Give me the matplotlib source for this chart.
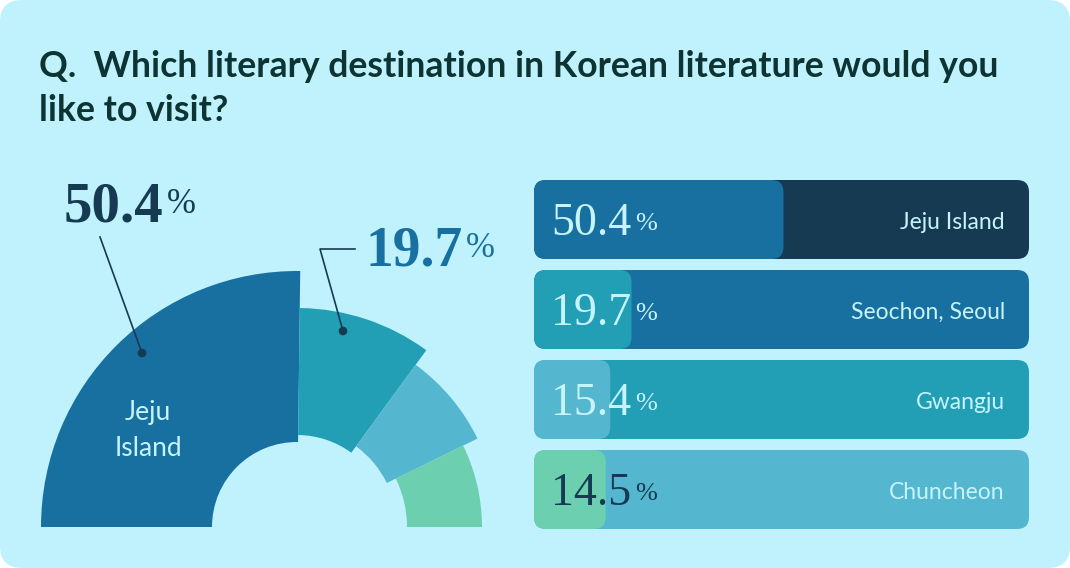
import matplotlib
matplotlib.use("Agg")
import matplotlib.pyplot as plt
from matplotlib.patches import Wedge, FancyBboxPatch, Circle

# ---------------- data ----------------
title_lines = ["Q.  Which literary destination in Korean literature would you",
               "like to visit?"]
places = ["Jeju Island", "Seochon, Seoul", "Gwangju", "Chuncheon"]
shares = [50.4, 19.7, 15.4, 14.5]

# ---------------- style ----------------
W, H = 1070, 568
BG = "#bff2fd"
NAVY = "#163a52"
LIGHT = "#c6f4fc"
slice_colors = ["#1870a0", "#229eb5", "#55b7cf", "#6bcfb0"]
track_colors = ["#163a52", "#1870a0", "#229eb5", "#55b7cf"]
value_colors = [LIGHT, LIGHT, LIGHT, NAVY]
outer_r = [256, 219, 201, 185]
inner_r = [85, 92, 100, 110]
SANS = "Lato"
SERIF = "Liberation Serif"

fig = plt.figure(figsize=(W / 100, H / 100), dpi=100)
fig.patch.set_facecolor("white")

# main pixel-space axes (y measured upward)
ax = fig.add_axes([0, 0, 1, 1])
ax.set_xlim(0, W)
ax.set_ylim(0, H)
ax.axis("off")

def Y(py):
    return H - py

card = FancyBboxPatch((0, 0), W, H, boxstyle="round,pad=0,rounding_size=22",
                      facecolor=BG, edgecolor="none")
ax.add_patch(card)

# title
for line, by in zip(title_lines, [77, 121]):
    ax.text(39, Y(by), line, fontsize=25.7, fontweight="bold",
            family=SANS, color="#0d3333", va="baseline", ha="left")

# ---------------- half donut ----------------
cx, cy = 297, Y(527)
total = sum(shares)
ang = 180.0
for v, c, ro, ri in zip(shares, slice_colors, outer_r, inner_r):
    span = v / total * 180.0
    w = Wedge((cx, cy), ro, ang - span, ang, width=ro - ri, facecolor=c,
              edgecolor="none")
    ax.add_patch(w)
    ang -= span

# label inside Jeju slice
ax.text(148, Y(420), "Jeju", fontsize=19, family=SANS, color=LIGHT,
        ha="center", va="baseline")
ax.text(148, Y(456), "Island", fontsize=19, family=SANS, color=LIGHT,
        ha="center", va="baseline")

# leader lines + dots
ax.plot([100, 142], [Y(237), Y(353)], color=NAVY, lw=1.2)
ax.add_patch(Circle((142, Y(353)), 3.6, color=NAVY))
ax.plot([355, 320, 343], [Y(249), Y(249), Y(331)], color=NAVY, lw=1.2)
ax.add_patch(Circle((343, Y(331)), 3.6, color=NAVY))

# big callouts
t1 = ax.text(64, Y(222), f"{shares[0]}", fontsize=41, fontweight="bold",
             family=SERIF, color=NAVY, ha="left", va="baseline")
ax.annotate("%", xy=(1, 0), xycoords=t1, xytext=(2.5, 9.5), textcoords="offset points",
            fontsize=25, family=SERIF, color=NAVY, ha="left", va="bottom")
t2 = ax.text(365, Y(266), f"{shares[1]}", fontsize=40, fontweight="bold",
             family=SERIF, color="#1870a0", ha="left", va="baseline")
ax.annotate("%", xy=(1, 0), xycoords=t2, xytext=(2.5, 9.3), textcoords="offset points",
            fontsize=25, family=SERIF, color="#1870a0", ha="left", va="bottom")

# ---------------- progress bars ----------------
bx0, bx1 = 534, 1029
btop, bbot = 180, 529
bax = fig.add_axes([bx0 / W, (H - bbot) / H, (bx1 - bx0) / W, (bbot - btop) / H])
bax.set_xlim(0, 100)
bax.set_ylim(0, bbot - btop)
bax.axis("off")
px_per_unit = (bx1 - bx0) / 100.0
rad_px = 12
bar_h = 79
pitch = 90
for i, (name, v) in enumerate(zip(places, shares)):
    y0 = (bbot - btop) - (i * pitch + bar_h)
    track = FancyBboxPatch((0, y0), 100, bar_h,
                           boxstyle=f"round,pad=0,rounding_size={rad_px / px_per_unit}",
                           mutation_aspect=px_per_unit,
                           facecolor=track_colors[i], edgecolor="none")
    bax.add_patch(track)
    fill = FancyBboxPatch((0, y0), v, bar_h,
                          boxstyle=f"round,pad=0,rounding_size={rad_px / px_per_unit}",
                          mutation_aspect=px_per_unit,
                          facecolor=slice_colors[i], edgecolor="none")
    bax.add_patch(fill)
    base = y0 + bar_h / 2 - 15.5
    tv = bax.text(17 / px_per_unit, base, f"{v}", fontsize=33, family=SERIF,
                  color=value_colors[i], ha="left", va="baseline")
    bax.annotate("%", xy=(1, 0), xycoords=tv, xytext=(3, 7), textcoords="offset points",
                 fontsize=19, family=SERIF, color=value_colors[i], ha="left",
                 va="bottom")
    bax.text(100 - 24 / px_per_unit, y0 + bar_h / 2 - 9.5, name, fontsize=16.5,
             family=SANS, color=LIGHT, ha="right", va="baseline")

fig.savefig("out.png", dpi=100, facecolor=fig.get_facecolor())
